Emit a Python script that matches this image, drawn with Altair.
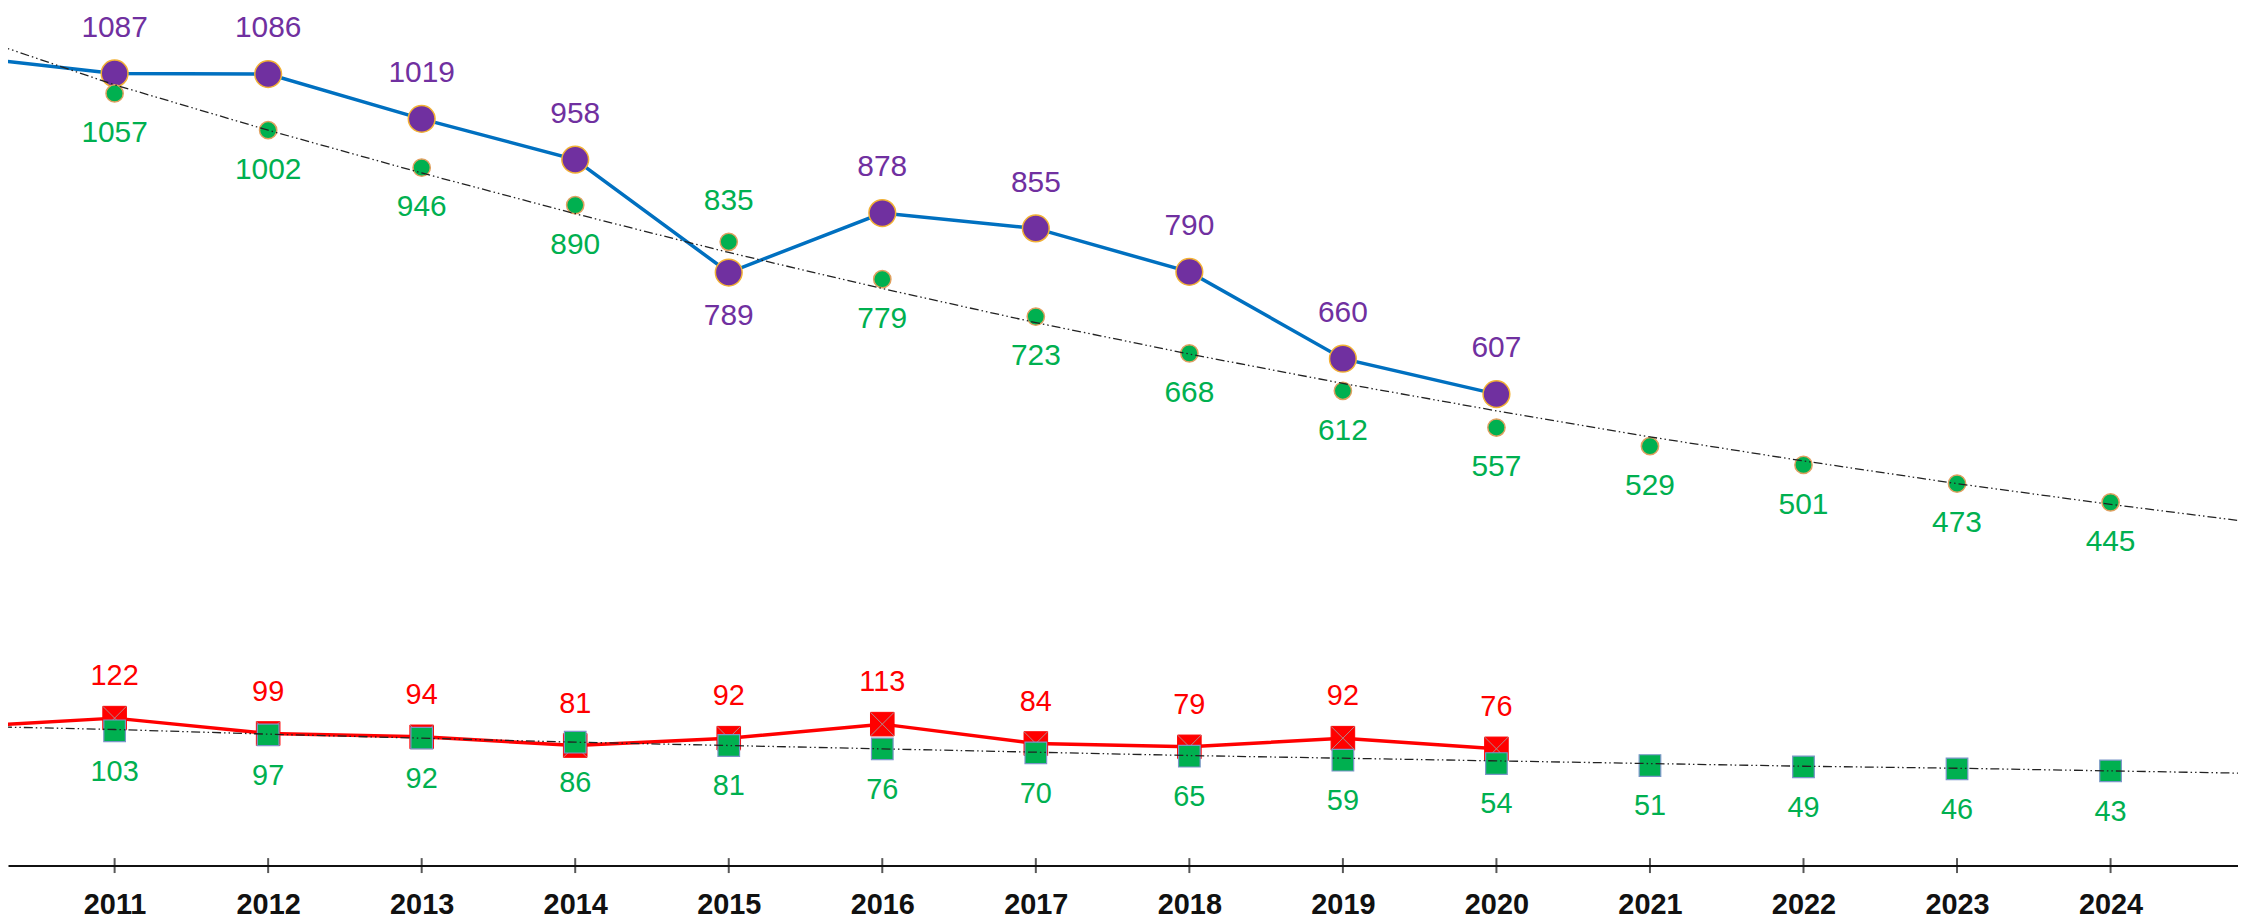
import altair as alt
import pandas as pd

# ---------------- data ----------------
years_actual = list(range(2010, 2021))
actual_total = [1113, 1087, 1086, 1019, 958, 789, 878, 855, 790, 660, 607]   # 2010 value only feeds the line (off-edge)
actual_red = [109, 122, 99, 94, 81, 92, 113, 84, 79, 92, 76]

years_fc = list(range(2011, 2025))
forecast_total = [1057, 1002, 946, 890, 835, 779, 723, 668, 612, 557, 529, 501, 473, 445]
forecast_red = [103, 97, 92, 86, 81, 76, 70, 65, 59, 54, 51, 49, 46, 43]

years_trend = list(range(2010, 2026))
trend_total = [1148, 1070, 1002, 938, 877, 819, 765, 714, 667, 623, 582, 543, 507, 473, 442, 413]
trend_red = [110, 105, 98, 92, 86, 81, 76, 71, 66, 62, 58, 54, 50, 47, 43, 39]

tick_years = list(range(2011, 2025))
flip_year = 2015  # year whose labels swap sides

# ---------------- tables ----------------
act_tot = pd.DataFrame({"year": years_actual, "value": actual_total})
act_red = pd.DataFrame({"year": years_actual, "value": actual_red})
act_tot_pts = act_tot[act_tot.year >= 2011]
act_red_pts = act_red[act_red.year >= 2011]
fc_tot = pd.DataFrame({"year": years_fc, "value": forecast_total})
fc_red = pd.DataFrame({"year": years_fc, "value": forecast_red})
tr_tot = pd.DataFrame({"year": years_trend, "value": trend_total})
tr_red = pd.DataFrame({"year": years_trend, "value": trend_red})
ticks = pd.DataFrame({"year": tick_years})

X_MIN, X_MAX = 2010.3056, 2024.830
Y_MIN, Y_MAX = -98.7, 1182.5
xs = alt.Scale(domain=[X_MIN, X_MAX], nice=False, zero=False)
ys = alt.Scale(domain=[Y_MIN, Y_MAX], nice=False, zero=False)

FONT = "Liberation Sans"

x_axis = alt.Axis(
    values=tick_years,
    format="d",
    title=None,
    grid=False,
    ticks=False,
    tickSize=0,
    labelFont=FONT,
    labelFontSize=29,
    labelFontWeight="bold",
    labelColor="#111111",
    labelPadding=25,
    labelFlush=False,
    labelOverlap=False,
    domainColor="#111111",
    domainWidth=2,
)

X = alt.X("year:Q", scale=xs, axis=x_axis)
Y = alt.Y("value:Q", scale=ys, axis=None)

PURPLE = "#7030A0"
GREEN = "#00B050"
RED = "#FF0000"
BLUE = "#0070C0"

blue_line = alt.Chart(act_tot).mark_line(color=BLUE, strokeWidth=3.5, clip=True).encode(x=X, y=Y)
red_line = alt.Chart(act_red).mark_line(color=RED, strokeWidth=3.5, clip=True).encode(x=X, y=Y)

purple_pts = alt.Chart(act_tot_pts).mark_point(
    shape="circle", filled=True, fill=PURPLE, stroke="#F2B134", strokeWidth=1.5, size=720, opacity=1
).encode(x=X, y=Y)

red_sq = alt.Chart(act_red_pts).mark_point(
    shape="square", filled=True, fill=RED, stroke=RED, strokeWidth=1, size=560, opacity=1
).encode(x=X, y=Y)
red_x = alt.Chart(act_red_pts).mark_point(
    shape="M-1,-1L1,1M-1,1L1,-1", filled=False, stroke="#B08A8A", strokeWidth=1, size=560, opacity=1
).encode(x=X, y=Y)

green_pts = alt.Chart(fc_tot).mark_point(
    shape="circle", filled=True, fill=GREEN, stroke="#E0A060", strokeWidth=1.5, size=300, opacity=1
).encode(x=X, y=Y)
green_sq = alt.Chart(fc_red).mark_point(
    shape="square", filled=True, fill=GREEN, stroke="#7A95C8", strokeWidth=1.2, size=470, opacity=1
).encode(x=X, y=Y)

dash = [9, 3, 1.5, 3, 1.5, 3]
trend_top = alt.Chart(tr_tot).mark_line(color="#222222", strokeWidth=1.3, strokeDash=dash, clip=True).encode(x=X, y=Y)
trend_bot = alt.Chart(tr_red).mark_line(color="#222222", strokeWidth=1.3, strokeDash=dash, clip=True).encode(x=X, y=Y)

T = alt.Text("value:Q", format="d")
not_flip = alt.datum.year != flip_year
is_flip = alt.datum.year == flip_year

purple_lab = alt.Chart(act_tot_pts).mark_text(
    font=FONT, fontSize=30, color=PURPLE, dy=-46, baseline="middle", align="center"
).encode(x=X, y=Y, text=T).transform_filter(not_flip)
purple_lab_flip = alt.Chart(act_tot_pts).mark_text(
    font=FONT, fontSize=30, color=PURPLE, dy=44, baseline="middle", align="center"
).encode(x=X, y=Y, text=T).transform_filter(is_flip)

green_lab = alt.Chart(fc_tot).mark_text(
    font=FONT, fontSize=30, color=GREEN, dy=40, baseline="middle", align="center"
).encode(x=X, y=Y, text=T).transform_filter(not_flip)
green_lab_flip = alt.Chart(fc_tot).mark_text(
    font=FONT, fontSize=30, color=GREEN, dy=-41, baseline="middle", align="center"
).encode(x=X, y=Y, text=T).transform_filter(is_flip)

red_lab = alt.Chart(act_red_pts).mark_text(
    font=FONT, fontSize=29, color=RED, dy=-42, baseline="middle", align="center"
).encode(x=X, y=Y, text=T)
green_sq_lab = alt.Chart(fc_red).mark_text(
    font=FONT, fontSize=29, color=GREEN, dy=41, baseline="middle", align="center"
).encode(x=X, y=Y, text=T)

axis_ticks = alt.Chart(ticks).mark_tick(
    color="#111111", thickness=2, size=15, orient="vertical"
).encode(
    x=X,
    y=alt.YDatum(Y_MIN, type="quantitative", scale=ys, axis=None),
)

chart = alt.layer(
    blue_line,
    red_line,
    purple_pts,
    red_sq,
    red_x,
    green_pts,
    green_sq,
    trend_top,
    trend_bot,
    purple_lab,
    purple_lab_flip,
    green_lab,
    green_lab_flip,
    red_lab,
    green_sq_lab,
    axis_ticks,
).properties(
    width=2238,
    height=859,
    autosize=alt.AutoSizeParams(type="none"),
    padding={"left": 0, "top": 0, "right": 0, "bottom": 60},
    background="white",
).configure_view(stroke=None)

chart.save("out.html", embed_options={"renderer": "svg", "actions": False})
